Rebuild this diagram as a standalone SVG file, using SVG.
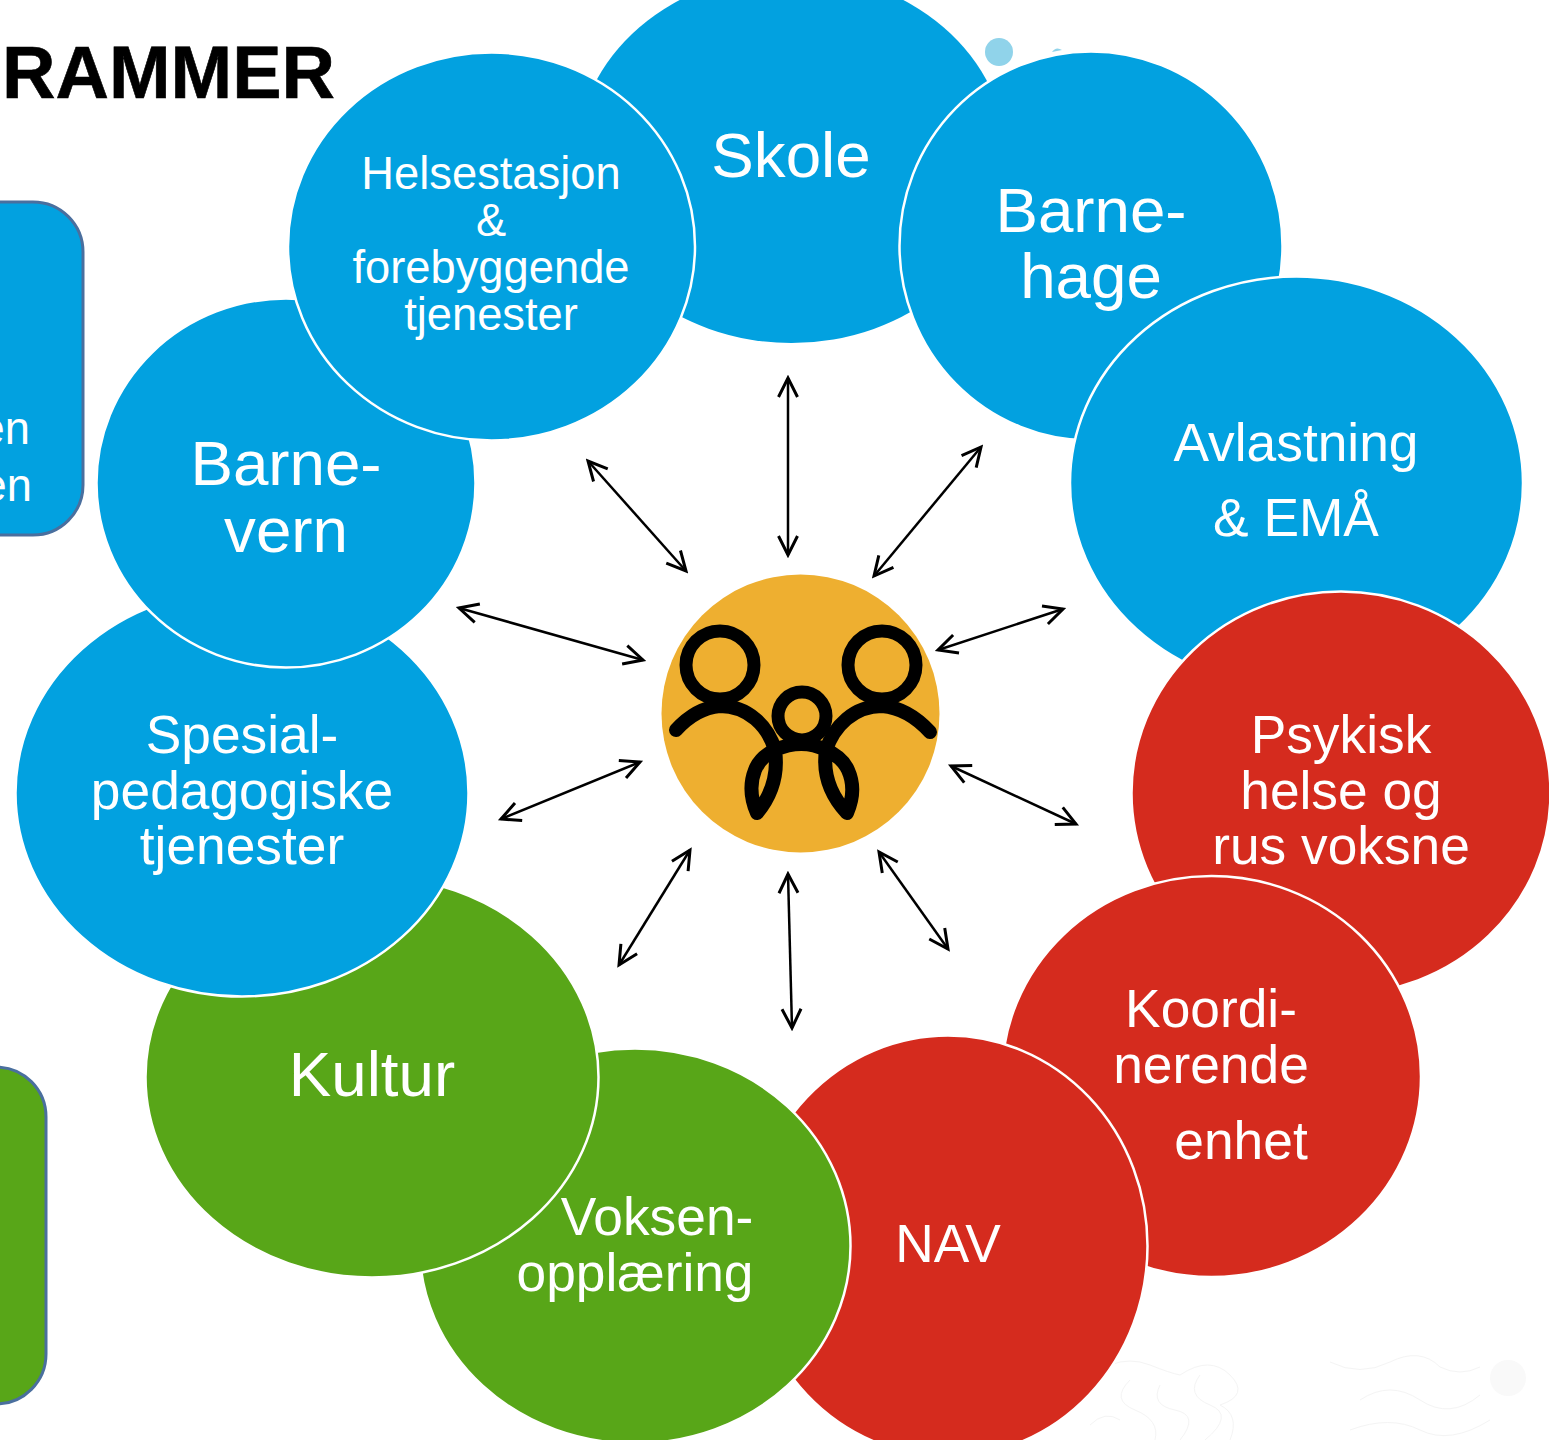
<svg xmlns="http://www.w3.org/2000/svg" width="1549" height="1440" viewBox="0 0 1549 1440">
<style>
text{font-family:"Liberation Sans",Arial,sans-serif;fill:#fff;text-anchor:middle}
.b{fill:#02a1e0}.r{fill:#d52b1e}.g{fill:#58a618}
.o{stroke:#fff;stroke-width:2.5}
.s{stroke:#4a6f9e;stroke-width:3}
.i{fill:none;stroke:#000;stroke-width:13;stroke-linecap:round;stroke-linejoin:round}
.a{stroke:#000;stroke-width:2.500;fill:none;marker-start:url(#h);marker-end:url(#h)}
.t{fill:none;stroke:#f4f4f4;stroke-width:1}
.f63{font-size:63.700px}.f53{font-size:53.300px}.f44{font-size:45.300px}
</style>
<defs><marker id="h" markerUnits="userSpaceOnUse" markerWidth="24" markerHeight="24" viewBox="0 0 24 24" refX="21" refY="12" orient="auto-start-reverse"><path d="M2 2.500 L21 12 L2 21.500" fill="none" stroke="#000" stroke-width="3"/></marker></defs>
<rect width="1549" height="1440" fill="#fff"/>
<g id="deco">
<circle cx="999" cy="52" r="14" fill="#90d3ea"/>
<path d="M1052 52Q1056 46 1062 50Z" fill="#90d3ea"/>
<path class="t" d="M1110 1365q20-8 40 0t30 10q30-20 50 0t-10 30q20 10 10 35M1130 1380q-20 20 5 30t20 30M1160 1385q-10 20 15 25t5 30M1200 1375q-15 20 10 30t-5 35M1090 1425q15-15 30-5"/>
<path class="t" d="M1330 1362q30 15 60 0t50 5q20 10 40 0M1360 1400q30-20 60 0t60-5M1350 1430q40-15 70 0t70-10"/>
<circle cx="1508" cy="1378" r="18" fill="#f9f9f9"/>
</g>
<text id="title" x="168.500" y="98" style="font-size:74px;font-weight:700;fill:#000;stroke:#000;stroke-width:.6">RAMMER</text>
<g id="box-blue">
<rect class="b s" x="-100" y="202" width="183" height="333" rx="50"/>
<text class="f44" x="30" y="444" style="text-anchor:end">en</text>
<text class="f44" x="32" y="501" style="text-anchor:end">en</text>
</g>
<g id="box-green"><rect class="g s" x="-137" y="1067" width="183" height="337" rx="50"/></g>
<g id="skole"><ellipse class="b" cx="791.500" cy="158" rx="215" ry="185"/><text class="f63" x="791" y="177">Skole</text></g>
<g id="barnehage"><ellipse class="b o" cx="1091" cy="246" rx="191.500" ry="194.500"/><text class="f63" x="1091" y="232">Barne-</text><text class="f63" x="1091" y="298">hage</text></g>
<g id="avlastning"><ellipse class="b o" cx="1296.500" cy="483" rx="226.500" ry="206.500"/><text class="f53" x="1296" y="461">Avlastning</text><text class="f53" x="1296" y="536">&amp; EMÅ</text></g>
<g id="psykisk"><ellipse class="r o" cx="1341" cy="793" rx="209.500" ry="201.500"/><text class="f53" x="1341" y="753">Psykisk</text><text class="f53" x="1341" y="809">helse og</text><text class="f53" x="1341" y="864">rus voksne</text></g>
<g id="koordinerende"><ellipse class="r o" cx="1211.500" cy="1076.500" rx="209.500" ry="200.500"/><text class="f53" x="1211" y="1027">Koordi-</text><text class="f53" x="1211" y="1083">nerende</text><text class="f53" x="1241" y="1159">enhet</text></g>
<g id="nav"><ellipse class="r o" cx="948" cy="1246" rx="199.500" ry="210.500"/><text class="f53" x="948" y="1262">NAV</text></g>
<g id="voksen"><ellipse class="g o" cx="635" cy="1246" rx="215.500" ry="197.500"/><text class="f53" x="657" y="1235">Voksen-</text><text class="f53" x="635" y="1291">opplæring</text></g>
<g id="kultur"><ellipse class="g o" cx="372" cy="1077" rx="226.500" ry="200.500"/><text class="f63" x="372" y="1096">Kultur</text></g>
<g id="spesial"><ellipse class="b o" cx="242" cy="793" rx="226.500" ry="203.500"/><text class="f53" x="242" y="753">Spesial-</text><text class="f53" x="242" y="809">pedagogiske</text><text class="f53" x="242" y="864">tjenester</text></g>
<g id="barnevern"><ellipse class="b o" cx="286" cy="483" rx="189.500" ry="184.500"/><text class="f63" x="286" y="485">Barne-</text><text class="f63" x="286" y="552">vern</text></g>
<g id="helsestasjon"><ellipse class="b o" cx="491.500" cy="246.500" rx="203.500" ry="194"/><text class="f44" x="491" y="189">Helsestasjon</text><text class="f44" x="491" y="236">&amp;</text><text class="f44" x="491" y="283">forebyggende</text><text class="f44" x="491" y="330">tjenester</text></g>
<g id="center">
<circle cx="800.500" cy="713.500" r="139" fill="#eeaf30"/>
<circle class="i" cx="720" cy="665" r="34"/>
<circle class="i" cx="882" cy="665" r="34"/>
<circle class="i" cx="802" cy="716" r="24"/>
<path class="i" style="stroke-width:14" d="M676 730Q696 708 720 706C748 706 768 726 775 750Q780 785 757 813Q747 790 755 770Q760 757 775 750Q802 738 826 750C834 726 854 706 882 706Q908 708 930 732M826 750Q821 785 847 813Q857 790 848 770Q842 757 826 750"/>
</g>
<g id="connectors">
<path class="a" d="M788 378V555"/>
<path class="a" d="M588 461L686 571"/>
<path class="a" d="M981 447L874 576"/>
<path class="a" d="M459 608L643 660"/>
<path class="a" d="M1063 609L938 650"/>
<path class="a" d="M501 819L640 762"/>
<path class="a" d="M951 766L1076 824"/>
<path class="a" d="M690 850L619 965"/>
<path class="a" d="M879 852L948 949"/>
<path class="a" d="M788 874L792 1028"/>
</g>
</svg>
